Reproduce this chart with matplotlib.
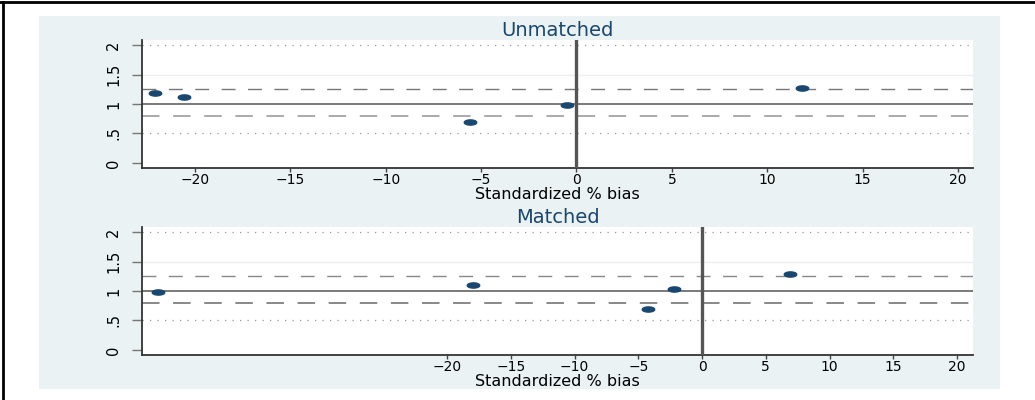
import matplotlib
matplotlib.use('Agg')
import matplotlib.pyplot as plt
import numpy as np
from matplotlib.path import Path
from matplotlib.lines import Line2D
from matplotlib.patches import Rectangle

# Standardized % bias vs. variance ratio, before and after matching
unmatched_bias = [-22.1, -20.6, -5.6, -0.5, 11.8]
unmatched_ratio = [1.19, 1.12, 0.69, 0.98, 1.27]
matched_bias = [-42.7, -18.0, -4.25, -2.2, 6.9]
matched_ratio = [0.98, 1.10, 0.69, 1.03, 1.29]

x_ticks = [-20, -15, -10, -5, 0, 5, 10, 15, 20]
y_ticks = [0, 0.5, 1, 1.5, 2]
y_tick_labels = ['0', '.5', '1', '1.5', '2']
upper_bound = 1.25
lower_bound = 0.8

navy = '#1a476f'

# flat ellipse marker (the original graph is squashed vertically)
t = np.linspace(0, 2 * np.pi, 40)
ellipse = Path(np.column_stack([2.4 * np.cos(t), np.sin(t)]))

fig = plt.figure(figsize=(10.35, 4), dpi=100)

# light graph region and the black frame lines
fig.patches.append(Rectangle((39 / 1035, 11 / 400), 961 / 1035, 373 / 400,
                             transform=fig.transFigure, facecolor='#eaf2f3',
                             edgecolor='none', zorder=-5))
fig.add_artist(Line2D([0, 1], [0.995, 0.995], transform=fig.transFigure,
                      color='black', lw=2))
fig.add_artist(Line2D([0.003, 0.003], [0, 0.995], transform=fig.transFigure,
                      color='black', lw=2))

panels = [
    ('Unmatched', unmatched_bias, unmatched_ratio, (-22.78, 20.79), 0.58, ('#777777', '#aaaaaa')),
    ('Matched', matched_bias, matched_ratio, (-43.92, 21.25), 0.1125, ('#888888', '#888888')),
]

for title, bias, ratio, xlim, bottom, dash_colors in panels:
    ax = fig.add_axes([142 / 1035, bottom, 831 / 1035, 0.32])
    ax.set_facecolor('white')

    ax.axhline(1.5, color='#eeeeee', lw=1, zorder=1)
    for yv in (0.5, 2):
        ax.axhline(yv, color='#999999', lw=0.9, linestyle=(0, (1, 5)), zorder=1)
    ax.axhline(upper_bound, color=dash_colors[0], lw=1, linestyle=(0, (10, 9)), zorder=2)
    ax.axhline(lower_bound, color=dash_colors[1], lw=1.4, linestyle=(0, (9, 7)), zorder=2)
    ax.axhline(1, color='#555555', lw=1.1, zorder=2)
    ax.axvline(0, color='#555555', lw=2.4, zorder=3)

    ax.plot(bias, ratio, linestyle='none', marker=ellipse, markersize=9,
            color=navy, zorder=4)

    ax.set_xlim(*xlim)
    ax.set_ylim(-0.085, 2.085)
    ax.set_xticks(x_ticks)
    ax.set_yticks(y_ticks)
    ax.set_yticklabels(y_tick_labels, rotation=90, va='center')

    ax.tick_params(axis='x', length=3, width=1, color='#444444', pad=0.5, labelsize=10)
    ax.tick_params(axis='y', length=7, width=1, color='#777777', pad=8, labelsize=10.5)

    for side in ('top', 'right'):
        ax.spines[side].set_visible(False)
    for side in ('left', 'bottom'):
        ax.spines[side].set_color('#333333')
        ax.spines[side].set_linewidth(1.3)

    ax.set_xlabel('Standardized % bias', fontsize=11.5)
    ax.xaxis.set_label_coords(0.5, -0.15)
    ax.set_title(title, color=navy, fontsize=14, pad=2)

plt.savefig('out.png', dpi=100)
